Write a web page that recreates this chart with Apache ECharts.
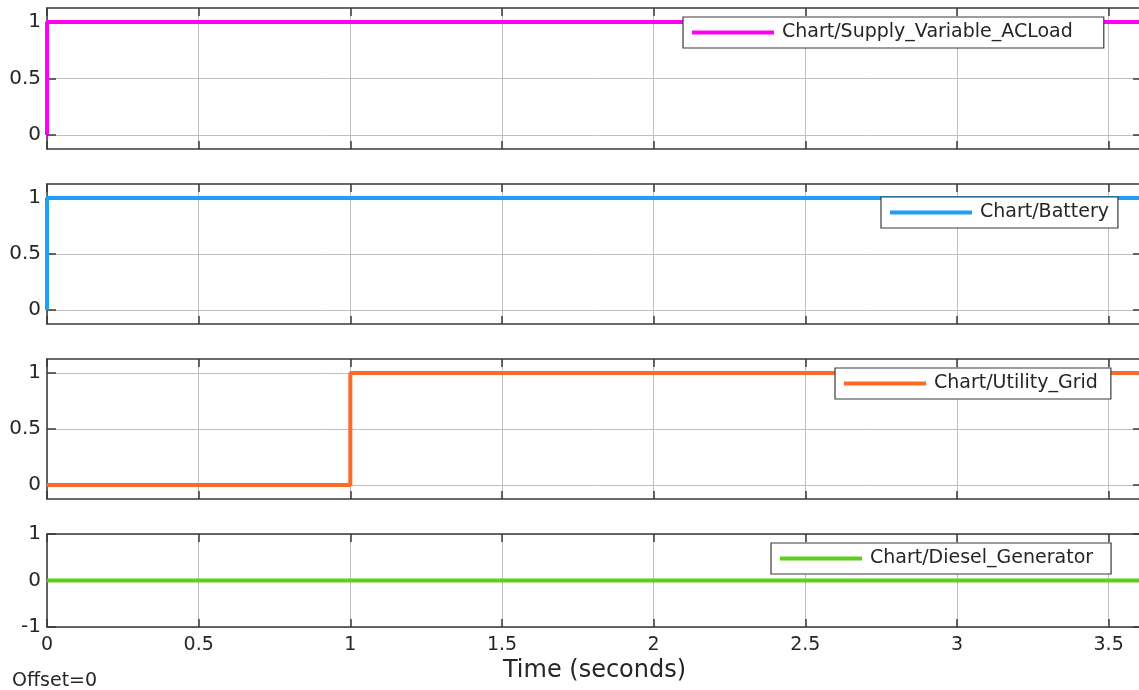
<!DOCTYPE html>
<html>
<head>
<meta charset="utf-8">
<script src="https://cdn.jsdelivr.net/npm/echarts@6/dist/echarts.min.js"></script>
<style>html,body{margin:0;padding:0;background:#fff;overflow:hidden;width:1139px;height:690px;}#c{width:1200px;height:690px;}</style>
</head>
<body>
<div id="c"></div>
<script>
// ---- data ----
const seriesNames = ['Chart/Supply_Variable_ACLoad', 'Chart/Battery', 'Chart/Utility_Grid', 'Chart/Diesel_Generator'];
const seriesColors = ['#ff00f5', '#1ea0f5', '#ff6a2a', '#5ccf1a'];
const tSupply = [0, 0, 4];
const vSupply = [0, 1, 1];
const tBattery = [0, 0, 4];
const vBattery = [0, 1, 1];
const tGrid = [0, 1, 1, 4];
const vGrid = [0, 0, 1, 1];
const tDiesel = [0, 4];
const vDiesel = [0, 0];
const yTicksBinary = [0, 0.5, 1];
const yTicksDiesel = [-1, 0, 1];
const xTickStep = 0.5;
const xRange = [0, 3.61];
const yRangeBinary = [-0.125, 1.125];
const yRangeDiesel = [-1, 1];

const FONT = 'DejaVu Sans';
const TXT = '#262626';
const FRAME = '#3a3a3a';
const GRIDC = '#c0c0c0';

const gridsLayout = [
  {top: 8, height: 141},
  {top: 184, height: 140},
  {top: 359, height: 140},
  {top: 534, height: 93}
];
const legendPos = [
  {left: 683, top: 17, padRight: 31},
  {left: 881, top: 197, padRight: 9},
  {left: 835, top: 368, padRight: 13},
  {left: 771, top: 543, padRight: 18}
];
const times = [tSupply, tBattery, tGrid, tDiesel];
const vals = [vSupply, vBattery, vGrid, vDiesel];

const grid = [], xAxis = [], yAxis = [], series = [], legend = [];
gridsLayout.forEach((g, i) => {
  grid.push({left: 47, right: 58, top: g.top, height: g.height, show: false});
  const isLast = i === 3;
  const xBase = {
    type: 'value', gridIndex: i, min: xRange[0], max: xRange[1], interval: xTickStep,
    axisLine: {show: true, onZero: false, lineStyle: {color: FRAME, width: 1.5}},
    axisTick: {show: true, inside: true, length: 8, lineStyle: {color: FRAME, width: 1.5}}
  };
  xAxis.push(Object.assign({}, xBase, {
    position: 'bottom',
    splitLine: {show: true, lineStyle: {color: GRIDC, width: 1}},
    axisLabel: {show: isLast, showMaxLabel: false, margin: 9, color: TXT, fontFamily: FONT, fontSize: 19},
    name: isLast ? 'Time (seconds)' : '',
    nameLocation: 'middle', nameGap: 32,
    nameTextStyle: {color: TXT, fontFamily: FONT, fontSize: 24}
  }));
  xAxis.push(Object.assign({}, xBase, {
    position: 'top', splitLine: {show: false}, axisLabel: {show: false}
  }));
  const yr = isLast ? yRangeDiesel : yRangeBinary;
  const yt = isLast ? yTicksDiesel : yTicksBinary;
  const yBase = {
    type: 'value', gridIndex: i, min: yr[0], max: yr[1],
    axisLine: {show: true, onZero: false, lineStyle: {color: FRAME, width: 1.5}},
    axisTick: {show: true, inside: true, length: 9, customValues: yt, lineStyle: {color: FRAME, width: 1.5}}
  };
  yAxis.push(Object.assign({}, yBase, {
    position: 'left',
    splitLine: {show: true, lineStyle: {color: GRIDC, width: 1}},
    axisLabel: {show: true, customValues: yt, margin: 6, color: TXT, fontFamily: FONT, fontSize: 20}
  }));
  yAxis.push(Object.assign({}, yBase, {
    position: 'right', splitLine: {show: false}, axisLabel: {show: false}
  }));
  series.push({
    name: seriesNames[i], type: 'line', xAxisIndex: 2 * i, yAxisIndex: 2 * i,
    data: times[i].map((t, k) => [t, vals[i][k]]),
    showSymbol: false, symbol: 'none', clip: true,
    lineStyle: {color: seriesColors[i], width: 4},
    itemStyle: {color: seriesColors[i]},
    animation: false, z: 3
  });
  legend.push({
    data: [{name: seriesNames[i], icon: 'rect'}],
    left: legendPos[i].left, top: legendPos[i].top,
    orient: 'horizontal',
    itemWidth: 82, itemHeight: 4, itemGap: 0,
    padding: [6, legendPos[i].padRight, 6, 9],
    backgroundColor: '#ffffff',
    borderColor: FRAME, borderWidth: 1.2,
    selectedMode: false,
    textStyle: {color: TXT, fontFamily: FONT, fontSize: 19, padding: [0, 0, 0, 3]},
    z: 10
  });
});

const chart = echarts.init(document.getElementById('c'), null, {renderer: 'canvas'});
chart.setOption({
  animation: false,
  backgroundColor: '#ffffff',
  grid, xAxis, yAxis, series, legend,
  graphic: [{
    type: 'text', left: 12, top: 672,
    style: {text: 'Offset=0', fill: TXT, font: '19px "DejaVu Sans"'}
  }]
});
</script>
</body>
</html>
